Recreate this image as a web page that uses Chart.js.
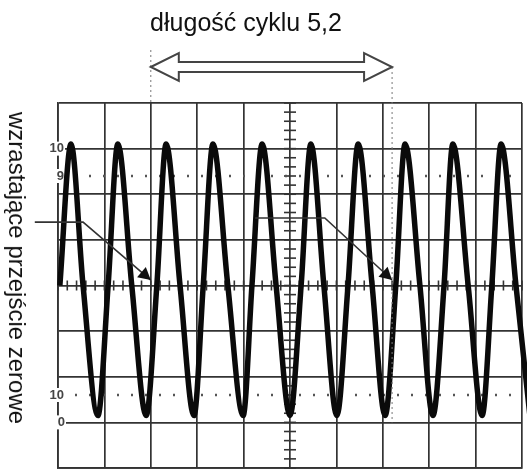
<!DOCTYPE html>
<html>
<head>
<meta charset="utf-8">
<script src="https://cdn.jsdelivr.net/npm/chart.js@4/dist/chart.umd.min.js"></script>
<style>
    html, body { margin: 0; padding: 0; background: #fff; }
    #wrap { position: relative; width: 527px; height: 471px; overflow: hidden; }
    #scope { position: absolute; left: 0; top: 0; }
    #title {
        position: absolute; left: 0; top: 8px; width: 492px; text-align: center;
        font: 25px "Liberation Sans", Arial, sans-serif; color: #111; line-height: 28px;
    }
    #side {
        position: absolute; left: 17px; top: 268px; white-space: nowrap;
        transform: translate(-50%, -50%) rotate(90deg);
        font: 24px "Liberation Sans", Arial, sans-serif; color: #111; line-height: 28px;
    }
</style>
</head>
<body>
<div id="wrap">
    <canvas id="scope" width="527" height="471"></canvas>
    <div id="title">długość cyklu 5,2</div>
    <div id="side">wzrastające przejście zerowe</div>
</div>
<script>
// trace, in graticule divisions
const riseX   = [0.04, 1.08, 2.13, 3.13, 4.18, 5.24, 6.25, 7.28, 8.32, 9.35];
const peakX   = [0.28, 1.29, 2.33, 3.34, 4.40, 5.45, 6.47, 7.48, 8.51, 9.55];
const fallX   = [0.54, 1.59, 2.63, 3.66, 4.70, 5.73, 6.77, 7.80, 8.84, 9.87];
const troughX = [0.86, 1.90, 2.93, 3.99, 5.00, 6.01, 7.05, 8.08, 9.14, 10.17];
const peakLevel = 3.1;
const troughLevel = -2.85;

// graticule marks (percent levels in divisions) and their labels
const levelY = [3, 2.4, -2.4, -3];          // 100%, 90%, 10%, 0%
const levelLabels = ['10', '9', '10', '0'];
const dottedLevels = [2.4, -2.4];

// one cycle, from zero crossing to zero crossing
const cycleStart = 2.0;
const cycleEnd = 7.2;

// build the trace points
const trace = [];
for (let i = 0; i < riseX.length; i++) {
    trace.push({ x: riseX[i], y: 0 });
    trace.push({ x: peakX[i], y: peakLevel });
    trace.push({ x: fallX[i], y: 0 });
    trace.push({ x: troughX[i], y: troughLevel });
}

const gridColor = '#333';

function filledHead(ctx, x1, y1, x2, y2, size) {
    const a = Math.atan2(y2 - y1, x2 - x1);
    ctx.beginPath();
    ctx.moveTo(x2, y2);
    ctx.lineTo(x2 - size * Math.cos(a - 0.5), y2 - size * Math.sin(a - 0.5));
    ctx.lineTo(x2 - size * Math.cos(a + 0.5), y2 - size * Math.sin(a + 0.5));
    ctx.closePath();
    ctx.fill();
}

const graticule = {
    id: 'graticule',
    beforeDatasetsDraw(chart) {
        const ctx = chart.ctx;
        const xs = chart.scales.x, ys = chart.scales.y;
        const area = chart.chartArea;
        ctx.save();

        // center cross with fine ticks
        const cx = xs.getPixelForValue(5), cy = ys.getPixelForValue(0);
        ctx.strokeStyle = gridColor;
        ctx.lineWidth = 1.6;
        for (let v = -4; v <= 4.001; v += 0.2) {
            const y = ys.getPixelForValue(v);
            ctx.beginPath();
            ctx.moveTo(cx - 6, y);
            ctx.lineTo(cx + 6, y);
            ctx.stroke();
        }
        for (let v = 0; v <= 10.001; v += 0.2) {
            const x = xs.getPixelForValue(v);
            ctx.beginPath();
            ctx.moveTo(x, cy - 5);
            ctx.lineTo(x, cy + 5);
            ctx.stroke();
        }

        // dotted 90% and 10% lines
        ctx.setLineDash([2, 12]);
        ctx.lineWidth = 2.4;
        ctx.strokeStyle = '#555';
        dottedLevels.forEach(v => {
            const y = ys.getPixelForValue(v);
            ctx.beginPath();
            ctx.moveTo(area.left + 17, y);
            ctx.lineTo(area.right, y);
            ctx.stroke();
        });
        ctx.setLineDash([]);

        // percent labels at the left edge
        ctx.font = 'bold 13px "Liberation Sans", Arial, sans-serif';
        ctx.textAlign = 'right';
        ctx.textBaseline = 'middle';
        levelY.forEach((v, i) => {
            const y = ys.getPixelForValue(v);
            const w = ctx.measureText(levelLabels[i]).width;
            const right = area.left + (i === 3 ? 7 : 6);
            ctx.fillStyle = '#fff';
            ctx.fillRect(right - w - 1, y - 7, w + 2, 14);
            ctx.fillStyle = '#444';
            ctx.fillText(levelLabels[i], right, y);
        });
        ctx.restore();
    },
    afterDraw(chart) {
        const ctx = chart.ctx;
        const xs = chart.scales.x, ys = chart.scales.y;
        ctx.save();
        const x0 = xs.getPixelForValue(cycleStart);
        const x1 = xs.getPixelForValue(cycleEnd);
        const tipY = ys.getPixelForValue(0.12);

        // pointers to the rising zero crossings
        ctx.strokeStyle = '#333';
        ctx.fillStyle = '#111';
        ctx.lineWidth = 1.6;
        const pointers = [
            [xs.getPixelForValue(-0.5), xs.getPixelForValue(0.54), ys.getPixelForValue(1.39), x0],
            [xs.getPixelForValue(4.25), xs.getPixelForValue(5.75), ys.getPixelForValue(1.48), x1]
        ];
        pointers.forEach(p => {
            ctx.beginPath();
            ctx.moveTo(p[0], p[2]);
            ctx.lineTo(p[1], p[2]);
            ctx.lineTo(p[3], tipY);
            ctx.stroke();
            filledHead(ctx, p[1], p[2], p[3], tipY, 14);
        });

        // dotted guides from the cycle arrow
        ctx.setLineDash([2, 3]);
        ctx.strokeStyle = '#777';
        ctx.lineWidth = 1;
        ctx.beginPath();
        ctx.moveTo(x0, 50);
        ctx.lineTo(x0, chart.chartArea.top);
        ctx.moveTo(x1, 67);
        ctx.lineTo(x1, ys.getPixelForValue(-3));
        ctx.stroke();
        ctx.setLineDash([]);

        // hollow double arrow for the cycle length
        const cy = 67, head = 28;
        ctx.strokeStyle = '#444';
        ctx.lineWidth = 2;
        ctx.fillStyle = '#fff';
        ctx.beginPath();
        ctx.moveTo(x0, cy);
        ctx.lineTo(x0 + head, cy - 14);
        ctx.lineTo(x0 + head, cy - 5);
        ctx.lineTo(x1 - head, cy - 5);
        ctx.lineTo(x1 - head, cy - 14);
        ctx.lineTo(x1, cy);
        ctx.lineTo(x1 - head, cy + 14);
        ctx.lineTo(x1 - head, cy + 5);
        ctx.lineTo(x0 + head, cy + 5);
        ctx.lineTo(x0 + head, cy + 14);
        ctx.closePath();
        ctx.fill();
        ctx.stroke();
        ctx.restore();
    }
};

new Chart(document.getElementById('scope'), {
    type: 'line',
    data: {
        datasets: [{
            data: trace,
            borderColor: '#0a0a0a',
            borderWidth: 5.5,
            pointRadius: 0,
            cubicInterpolationMode: 'monotone',
            fill: false,
            clip: { left: 2, top: 10, right: 6, bottom: 10 }
        }]
    },
    options: {
        responsive: false,
        animation: false,
        layout: { padding: { left: 58, right: 5, top: 103, bottom: 3 } },
        plugins: { legend: { display: false }, tooltip: { enabled: false }, title: { display: false } },
        scales: {
            x: {
                type: 'linear', min: 0, max: 10,
                ticks: { display: false, stepSize: 1 },
                grid: { color: gridColor, lineWidth: 1.7, drawTicks: false },
                border: { color: gridColor, width: 1.7 }
            },
            y: {
                type: 'linear', min: -4, max: 4,
                ticks: { display: false, stepSize: 1 },
                grid: { color: gridColor, lineWidth: 1.7, drawTicks: false },
                border: { color: gridColor, width: 1.7 }
            }
        }
    },
    plugins: [graticule]
});
</script>
</body>
</html>
